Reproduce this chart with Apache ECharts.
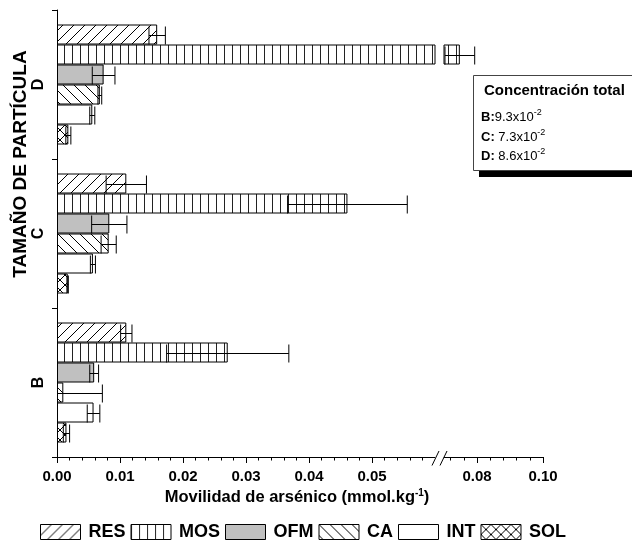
<!DOCTYPE html>
<html>
<head>
<meta charset="utf-8">
<script src="https://cdn.jsdelivr.net/npm/echarts@6/dist/echarts.min.js"></script>
<style>
  html, body { margin: 0; padding: 0; background: #fff; }
  #chart { width: 632px; height: 543px; }
</style>
</head>
<body>
<div id="chart"></div>
<script>
// Particle-size groups (bottom to top) and arsenic fractions
const categories = ['B', 'C', 'D'];
const seriesNames = ['RES', 'MOS', 'OFM', 'CA', 'INT', 'SOL'];

// Arsenic mobility per fraction (mmol/kg), order B, C, D
const RES = [0.0110, 0.0110, 0.0159];
const MOS = [0.0271, 0.0461, 0.0748];
const OFM = [0.0059, 0.0083, 0.0074];
const CA  = [0.0010, 0.0082, 0.0068];
const INT = [0.0058, 0.0057, 0.0056];
const SOL = [0.0015, 0.0017, 0.0018];

// Standard deviations, same order
const RES_err = [0.0009, 0.0032, 0.0013];
const MOS_err = [0.0097, 0.0095, 0.0045];
const OFM_err = [0.0007, 0.0028, 0.0018];
const CA_err  = [0.0062, 0.0012, 0.0003];
const INT_err = [0.0010, 0.0004, 0.0004];
const SOL_err = [0.0005, 0.0001, 0.0004];

// Broken value axis: low segment and high segment
const lowRange = [0, 0.06];
const highRange = [0.07, 0.10];
const lowTicks = [0, 0.01, 0.02, 0.03, 0.04, 0.05];
const highTicks = [0.08, 0.10];
const highMinorTicks = [0.072, 0.076, 0.084, 0.088, 0.092, 0.096];

// Total concentration box
const totalTitle = 'Concentración total';
const totalLabels = ['B:', 'C: ', 'D: '];
const totalMantissa = ['9.3x10', '7.3x10', '8.6x10'];
const totalExponent = ['-2', '-2', '-2'];

const values = [RES, MOS, OFM, CA, INT, SOL];
const errors = [RES_err, MOS_err, OFM_err, CA_err, INT_err, SOL_err];

const FONT = '"Liberation Sans", Arial, sans-serif';
const BAR_H = 20;
const CAP_H = 18;
const GRID_TOP = 10, GRID_BOTTOM = 86;
const LOW_LEFT = 57, LOW_WIDTH = 378;
const HIGH_LEFT = 444, HIGH_WIDTH = 99;

// Hatch fills
function hatch(kind) {
  const c = document.createElement('canvas');
  const g = c.getContext('2d');
  if (kind === 'solid') {
    c.width = c.height = 4;
    g.fillStyle = '#c0c0c0';
    g.fillRect(0, 0, 4, 4);
    return { image: c, repeat: 'repeat' };
  }
  if (kind === 'blank') {
    c.width = c.height = 4;
    g.fillStyle = '#fff';
    g.fillRect(0, 0, 4, 4);
    return { image: c, repeat: 'repeat' };
  }
  if (kind === 'vert') {
    c.width = 8; c.height = 8;
    g.fillStyle = '#fff';
    g.fillRect(0, 0, 8, 8);
    g.fillStyle = '#222';
    g.fillRect(0, 0, 1, 8);
    return { image: c, repeat: 'repeat' };
  }
  const s = kind === 'cross' ? 10 : 11;
  c.width = c.height = s;
  g.fillStyle = '#fff';
  g.fillRect(0, 0, s, s);
  g.strokeStyle = '#000';
  g.lineWidth = 1;
  const fwd = () => {
    g.beginPath();
    g.moveTo(-1, s + 1); g.lineTo(s + 1, -1);
    g.moveTo(-1, 1); g.lineTo(1, -1);
    g.moveTo(s - 1, s + 1); g.lineTo(s + 1, s - 1);
    g.stroke();
  };
  const back = () => {
    g.beginPath();
    g.moveTo(-1, -1); g.lineTo(s + 1, s + 1);
    g.moveTo(-1, s - 1); g.lineTo(1, s + 1);
    g.moveTo(s - 1, -1); g.lineTo(s + 1, 1);
    g.stroke();
  };
  if (kind === 'fwd') fwd();
  if (kind === 'back') back();
  if (kind === 'cross') { fwd(); back(); }
  return { image: c, repeat: 'repeat' };
}
const fills = [hatch('fwd'), hatch('vert'), hatch('solid'), hatch('back'), hatch('blank'), hatch('cross')];

// Error-bar items: [value, category, sd, series]
const errLow = [], errHigh = [];
values.forEach((vals, s) => vals.forEach((v, c) => {
  const e = errors[s][c];
  if (v - e < lowRange[1]) errLow.push([v, c, e, s]);
  if (v + e > highRange[0]) errHigh.push([v, c, e, s]);
}));

function renderError(params, api) {
  const v = api.value(0), c = api.value(1), e = api.value(2), s = api.value(3);
  const lo = Math.max(0, v - e), hi = v + e;
  const center = api.coord([v, c]);
  const groupH = BAR_H * seriesNames.length;
  const y = Math.round(center[1] - groupH / 2 + s * BAR_H + BAR_H / 2) + 0.5;
  const x1 = api.coord([lo, c])[0];
  const x2 = api.coord([hi, c])[0];
  const st = { stroke: '#000', lineWidth: 1 };
  const children = [
    { type: 'line', shape: { x1: x1, y1: y, x2: x2, y2: y }, style: st },
    { type: 'line', shape: { x1: x2, y1: y - CAP_H / 2, x2: x2, y2: y + CAP_H / 2 }, style: st }
  ];
  if (v - e > 0) {
    children.push({ type: 'line', shape: { x1: x1, y1: y - CAP_H / 2, x2: x1, y2: y + CAP_H / 2 }, style: st });
  }
  return { type: 'group', children: children };
}

const barSeries = [];
seriesNames.forEach((name, s) => {
  const style = { color: fills[s], borderColor: '#000', borderWidth: 1 };
  barSeries.push({
    name: name, type: 'bar', xAxisIndex: 0, yAxisIndex: 0,
    data: values[s], barWidth: BAR_H, barGap: '0%',
    itemStyle: style, emphasis: { disabled: true }
  });
});
seriesNames.forEach((name, s) => {
  const style = { color: fills[s], borderColor: '#000', borderWidth: 1 };
  barSeries.push({
    name: name, type: 'bar', xAxisIndex: 1, yAxisIndex: 1,
    data: values[s].map(v => (v > highRange[0] ? v : '-')),
    barWidth: BAR_H, barGap: '0%',
    itemStyle: style, emphasis: { disabled: true }
  });
});

const labelStyle = { color: '#000', fontFamily: FONT, fontWeight: 'bold', fontSize: 15 };
const lineStyle = { color: '#000', width: 1 };

const chart = echarts.init(document.getElementById('chart'));
chart.setOption({
  animation: false,
  backgroundColor: '#fff',
  grid: [
    { left: LOW_LEFT, width: LOW_WIDTH, top: GRID_TOP, bottom: GRID_BOTTOM, outerBoundsMode: 'none' },
    { left: HIGH_LEFT, width: HIGH_WIDTH, top: GRID_TOP, bottom: GRID_BOTTOM, outerBoundsMode: 'none' }
  ],
  xAxis: [
    {
      type: 'value', gridIndex: 0, position: 'bottom',
      min: lowRange[0], max: lowRange[1], interval: 0.01,
      axisLine: { show: true, lineStyle: lineStyle },
      axisTick: { show: true, length: 6, lineStyle: lineStyle, customValues: lowTicks },
      minorTick: { show: true, splitNumber: 5, length: 3.5, lineStyle: lineStyle },
      axisLabel: Object.assign({ margin: 12, customValues: lowTicks, formatter: v => v.toFixed(2) }, labelStyle),
      splitLine: { show: false }, minorSplitLine: { show: false }
    },
    {
      type: 'value', gridIndex: 1, position: 'bottom',
      min: highRange[0], max: highRange[1], interval: 0.01,
      axisLine: { show: true, lineStyle: lineStyle },
      axisTick: { show: true, length: 6, lineStyle: lineStyle, customValues: highTicks },
      axisLabel: Object.assign({ margin: 12, customValues: highTicks, formatter: v => v.toFixed(2) }, labelStyle),
      splitLine: { show: false }
    },
    {
      type: 'value', gridIndex: 1, position: 'bottom', offset: 0,
      min: highRange[0], max: highRange[1], interval: 0.01,
      axisLine: { show: false },
      axisTick: { show: true, length: 3.5, lineStyle: lineStyle, customValues: highMinorTicks },
      axisLabel: { show: false },
      splitLine: { show: false }
    }
  ],
  yAxis: [
    {
      type: 'category', gridIndex: 0, data: categories,
      axisLine: { show: true, lineStyle: lineStyle },
      axisTick: { show: true, length: 5, lineStyle: lineStyle },
      axisLabel: Object.assign({ rotate: 90, margin: 10 }, labelStyle, { fontSize: 16 }),
      splitLine: { show: false }
    },
    {
      type: 'category', gridIndex: 1, data: categories, show: false
    }
  ],
  legend: {
    left: 40, top: 523, padding: 0, icon: 'rect', itemWidth: 40, itemHeight: 15, itemGap: 5,
    selectedMode: false, data: seriesNames,
    itemStyle: { borderColor: '#000', borderWidth: 1 },
    textStyle: { color: '#000', fontFamily: FONT, fontWeight: 'bold', fontSize: 18, padding: [0, 0, 0, 3] }
  },
  series: barSeries.concat([
    {
      type: 'custom', xAxisIndex: 0, yAxisIndex: 0, data: errLow, clip: true,
      encode: { x: 0, y: 1 }, renderItem: renderError, z: 5, silent: true
    },
    {
      type: 'custom', xAxisIndex: 1, yAxisIndex: 1, data: errHigh, clip: true,
      encode: { x: 0, y: 1 }, renderItem: renderError, z: 5, silent: true
    }
  ])
});

// Axis break marks, axis titles and the total concentration box
const xBreakA = chart.convertToPixel({ xAxisIndex: 0 }, lowRange[1]);
const xBreakB = chart.convertToPixel({ xAxisIndex: 1 }, highRange[0]);
const mid = (xBreakA + xBreakB) / 2;
const axisY = 543 - GRID_BOTTOM;
const breakStyle = { stroke: '#000', lineWidth: 1 };

chart.setOption({
  graphic: [
    { type: 'rect', shape: { x: mid - 4, y: axisY - 2, width: 8, height: 4 }, style: { fill: '#fff' }, z: 10 },
    { type: 'line', shape: { x1: mid - 7.5, y1: axisY + 8.5, x2: mid - 0.5, y2: axisY - 6 }, style: breakStyle, z: 11 },
    { type: 'line', shape: { x1: mid + 0.5, y1: axisY + 8.5, x2: mid + 7.5, y2: axisY - 6 }, style: breakStyle, z: 11 },
    {
      type: 'text', x: 21, y: 164, rotation: Math.PI / 2, z: 10,
      style: {
        text: 'TAMAÑO DE PARTÍCULA', align: 'center', verticalAlign: 'middle',
        fill: '#000', fontFamily: FONT, fontWeight: 'bold', fontSize: 19
      }
    },
    {
      type: 'text', x: 297, y: 497, z: 10,
      style: {
        text: '{a|Movilidad de arsénico (mmol.kg}{s|-1}{a|)}',
        align: 'center', verticalAlign: 'middle', fill: '#000',
        rich: {
          a: { fontFamily: FONT, fontWeight: 'bold', fontSize: 16.5, lineHeight: 18, verticalAlign: 'bottom' },
          s: { fontFamily: FONT, fontWeight: 'bold', fontSize: 10, lineHeight: 18, verticalAlign: 'top' }
        }
      }
    },
    { type: 'rect', shape: { x: 479, y: 81, width: 170, height: 96 }, style: { fill: '#000' }, z: 10 },
    { type: 'rect', shape: { x: 473.5, y: 75.5, width: 170, height: 95 }, style: { fill: '#fff', stroke: '#444', lineWidth: 1 }, z: 11 },
    {
      type: 'text', x: 484, y: 91, z: 12,
      style: { text: totalTitle, verticalAlign: 'middle', fill: '#000', fontFamily: FONT, fontWeight: 'bold', fontSize: 15 }
    }
  ].concat(totalLabels.map((lab, i) => ({
    type: 'text', x: 481, y: [116, 136, 155][i], z: 12,
    style: {
      text: '{b|' + lab + '}{n|' + totalMantissa[i] + '}{s|' + totalExponent[i] + '}',
      verticalAlign: 'middle', fill: '#000',
      rich: {
        b: { fontFamily: FONT, fontWeight: 'bold', fontSize: 13, lineHeight: 15, verticalAlign: 'bottom' },
        n: { fontFamily: FONT, fontSize: 13, lineHeight: 15, verticalAlign: 'bottom' },
        s: { fontFamily: FONT, fontSize: 9, lineHeight: 15, verticalAlign: 'top' }
      }
    }
  })))
});
</script>
</body>
</html>
